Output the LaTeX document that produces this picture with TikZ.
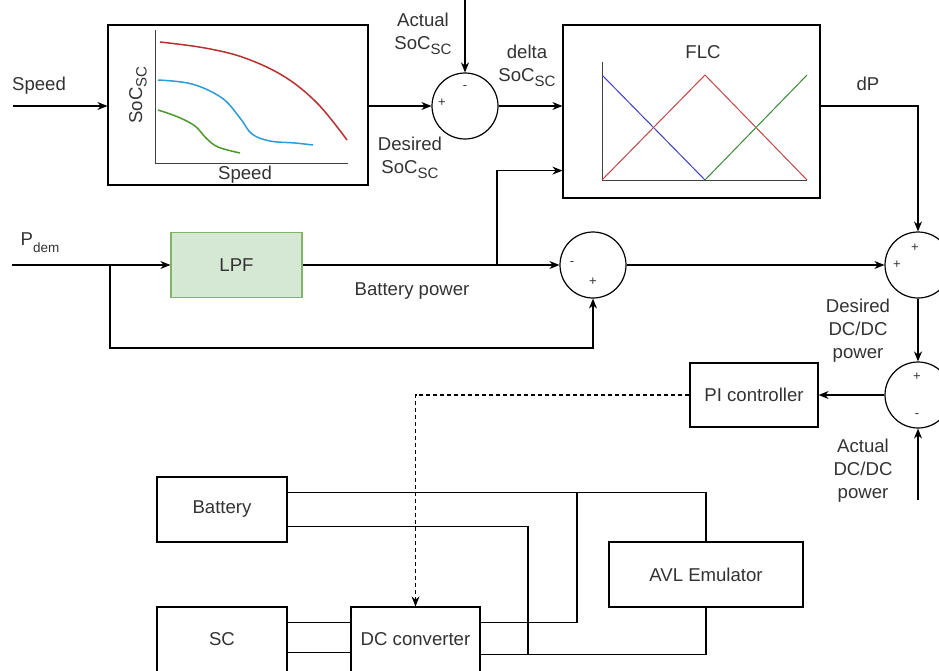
\documentclass[tikz,border=0pt]{standalone}
\usepackage{fontspec}
\setmainfont{Liberation Sans}
\usetikzlibrary{arrows.meta,calc}
\newcommand{\mysub}[1]{\raisebox{-0.45ex}{\fontsize{15}{15}\selectfont #1}}
\definecolor{txt}{HTML}{333333}
\definecolor{lpffill}{HTML}{D5E8D4}
\definecolor{lpfline}{HTML}{82B366}
\definecolor{cred}{HTML}{B83030}
\definecolor{cblue}{HTML}{2E9BD6}
\definecolor{cgreen}{HTML}{4A9A2A}
\definecolor{fblue}{HTML}{4040C0}
\definecolor{fred}{HTML}{C04848}
\definecolor{fgreen}{HTML}{3A8A3A}
\begin{document}
\begin{tikzpicture}[x=1pt,y=-1pt,line width=1.2pt,
  lbl/.style={font=\fontsize{18.6}{23}\selectfont, text=txt, align=center, inner sep=0pt},
  box/.style={draw, rectangle, inner sep=0pt, font=\fontsize{18.6}{23}\selectfont, text=txt},
  arr/.style={-{Stealth[length=10pt,width=8pt]}},
  sumc/.style={draw, circle, minimum size=66pt, inner sep=0pt},
  sgn/.style={font=\fontsize{13}{13}\selectfont, text=txt, inner sep=0pt}]
\clip (0,0) rectangle (939,670);
\fill[white] (0,0) rectangle (939,670);

% boxes
\node[box, minimum width=260pt, minimum height=160pt] (curve) at (238,105) {};
\node[box, minimum width=257pt, minimum height=173pt] (flc) at (691.5,111.5) {};
\node[box, minimum width=131pt, minimum height=65pt, fill=lpffill, draw=lpfline] (lpf) at (236.5,265) {LPF};
\node[box, minimum width=128pt, minimum height=64pt] (pi) at (754,395) {PI controller};
\node[box, minimum width=130pt, minimum height=65pt] (bat) at (222,509.5) {Battery};
\node[box, minimum width=130pt, minimum height=65pt] (sc) at (222,639.5) {SC};
\node[box, minimum width=129pt, minimum height=65pt] (dc) at (415.5,639.5) {DC converter};
\node[box, minimum width=194pt, minimum height=65pt] (avl) at (706,574.5) {AVL Emulator};

% sum circles
\node[sumc] (s1) at (465,106) {};
\node[sumc] (s2) at (593,265) {};
\node[sumc] (s3) at (918,265) {};
\node[sumc] (s4) at (918,395) {};

% signs
\node[sgn] (s1p) at (442,103) {+};
\node[sgn] (s1m) at (465,88) {-};
\node[sgn] (s2m) at (572,264) {-};
\node[sgn] (s2p) at (593,282) {+};
\node[sgn] (s3p1) at (915,248) {+};
\node[sgn] (s3p2) at (897,265) {+};
\node[sgn] (s4p) at (917,377) {+};
\node[sgn] (s4m) at (917,416) {-};

% curve box internals
\draw[line width=1pt, black!75] (155,30) -- (155,163) -- (348,163);
\node[lbl, rotate=90] (socax) at (138,95) {SoC\mysub{SC}};
\node[lbl] (spdax) at (245,175) {Speed};
\draw[cred, line width=1.5pt] plot[smooth, tension=0.6] coordinates {(160,42) (205,48) (245,58) (285,77) (318,104) (347,140)};
\draw[cblue, line width=1.5pt] plot[smooth, tension=0.6] coordinates {(158,80) (192,84) (222,98) (240,118) (252,134) (270,141) (295,143) (313,145)};
\draw[cgreen, line width=1.5pt] plot[smooth, tension=0.6] coordinates {(158,110) (178,117) (195,126) (206,138) (218,147) (240,153)};

% FLC internals
\node[lbl] (flct) at (703,52) {FLC};
\draw[line width=1pt, black!75] (602,62) -- (602,180) -- (807,180);
\draw[fblue, line width=1pt] (602,75) -- (705,180);
\draw[fred, line width=1pt] (602,180) -- (705,75) -- (807,180);
\draw[fgreen, line width=1pt] (705,180) -- (807,75);

% text labels
\node[lbl] (tspeed) at (39,86) {Speed};
\node[lbl] (tact) at (423,34) {Actual\\SoC\mysub{SC}};
\node[lbl] (tdes) at (410,158) {Desired\\SoC\mysub{SC}};
\node[lbl] (tdelta) at (527,66) {delta\\SoC\mysub{SC}};
\node[lbl] (tdp) at (868,84) {dP};
\node[lbl] (tpdem) at (40,243) {P\raisebox{-0.7ex}{\fontsize{13.5}{13.5}\selectfont dem}};
\node[lbl] (tbp) at (412,291) {Battery power};
\node[lbl] (tddc) at (858,331) {Desired\\DC/DC\\power};
\node[lbl] (tadc) at (863,471) {Actual\\DC/DC\\power};

% connectors
\coordinate (spdin) at (13,106);
\draw[arr] (spdin) -- (spdin -| curve.west);
\draw[arr] (s1.west -| curve.east) -- (s1.west);
\coordinate (actin) at (465,0);
\draw[arr] (actin) -- (s1.north);
\draw[arr] (s1.east) -- (s1.east -| flc.west);
\draw[arr] (s1.east -| flc.east) -| (s3.north);

\coordinate (pin) at (12,265);
\draw[arr] (pin) -- (lpf.west);
\coordinate (br1) at (110,265);
\coordinate (br1b) at (110,348);
\draw[arr] (br1) -- (br1b) -| (s2.south);
\draw[arr] (lpf.east) -- (s2.west);
\coordinate (br2) at (497,265);
\coordinate (flcin2) at ($(flc.south west)+(0,-28)$);
\draw[arr] (br2) |- (flcin2);
\draw[arr] (s2.east) -- (s3.west);
\draw[arr] (s3.south) -- (s4.north);
\draw[arr] (s4.west) -- (pi.east);
\coordinate (dcin) at (918,500);
\draw[arr] (dcin) -- (s4.south);
\draw[arr, dash pattern=on 4pt off 3pt] (pi.west) -| (dc.north);

% power wiring
\coordinate (j1) at (528,655);
\coordinate (j2) at (577,493);
\draw ($(bat.north east)+(0,16)$) -| (avl.north);
\draw ($(bat.south east)+(0,-16)$) -| (j1);
\draw ($(dc.north east)+(0,48)$) -| (avl.south);
\draw ($(dc.north east)+(0,16)$) -| (j2);
\draw ($(sc.north east)+(0,16)$) -- ($(dc.north west)+(0,16)$);
\draw ($(sc.north east)+(0,46)$) -- ($(dc.north west)+(0,46)$);
\end{tikzpicture}
\end{document}
